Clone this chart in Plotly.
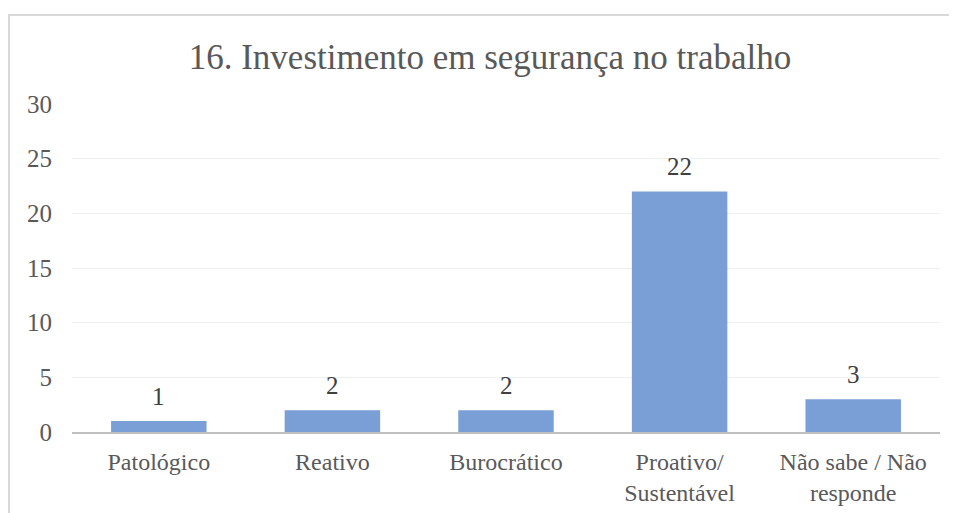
import plotly.graph_objects as go

categories = ["Patológico", "Reativo", "Burocrático", "Proativo/<br>Sustentável", "Não sabe / Não<br>responde"]
values = [1, 2, 2, 22, 3]
y_ticks = [0, 5, 10, 15, 20, 25, 30]
title_text = "16. Investimento em segurança no trabalho"

# page body has an 8px offset; layout numbers below are in figure coordinates
W, H = 957, 513
L, R, T, B = 64, 25, 96, 89
pw = W - L - R
ph = H - T - B
FONT = "Liberation Serif, Times New Roman, serif"

fig = go.Figure()
fig.add_trace(go.Bar(
    x=categories, y=values,
    marker=dict(color="#7A9FD7", line=dict(width=0)),
    hoverinfo="x+y",
))

for c, v in zip(categories, values):
    fig.add_annotation(x=c, y=v, text=str(v), showarrow=False, xanchor="center", yanchor="bottom",
                       yshift=9, font=dict(family=FONT, size=25, color="#404040"))

# chart border (light gray)
x0 = (1 - L) / pw
y1 = (H - B - 7) / ph
fig.add_shape(type="rect", xref="paper", yref="paper",
              x0=x0, x1=(W + 20 - L) / pw, y0=-(B + 20) / ph, y1=y1,
              line=dict(color="#D9D9D9", width=2), fillcolor="rgba(0,0,0,0)", layer="below")

fig.update_layout(
    width=W, height=H,
    margin=dict(l=L, r=R, t=T, b=B),
    paper_bgcolor="white", plot_bgcolor="white",
    bargap=0.45,
    showlegend=False,
    font=dict(family=FONT, color="#595959"),
    title=dict(text=title_text, x=(482 - L) / pw, xref="paper", xanchor="center", y=1 - 49 / H, yanchor="middle",
               font=dict(family=FONT, size=35, color="#595959")),
)
fig.update_yaxes(range=[0, 30], tickvals=y_ticks, showgrid=True, gridcolor="#EFEFEF", gridwidth=1,
                 zeroline=False, showline=False, ticks="", ticklabelstandoff=19, automargin=False,
                 tickfont=dict(family=FONT, size=25, color="#595959"))
fig.update_xaxes(showline=True, linecolor="#BFBFBF", linewidth=2, ticks="", ticklabelstandoff=7, automargin=False,
                 tickfont=dict(family=FONT, size=24, color="#595959"))

fig.write_html("out.html")
